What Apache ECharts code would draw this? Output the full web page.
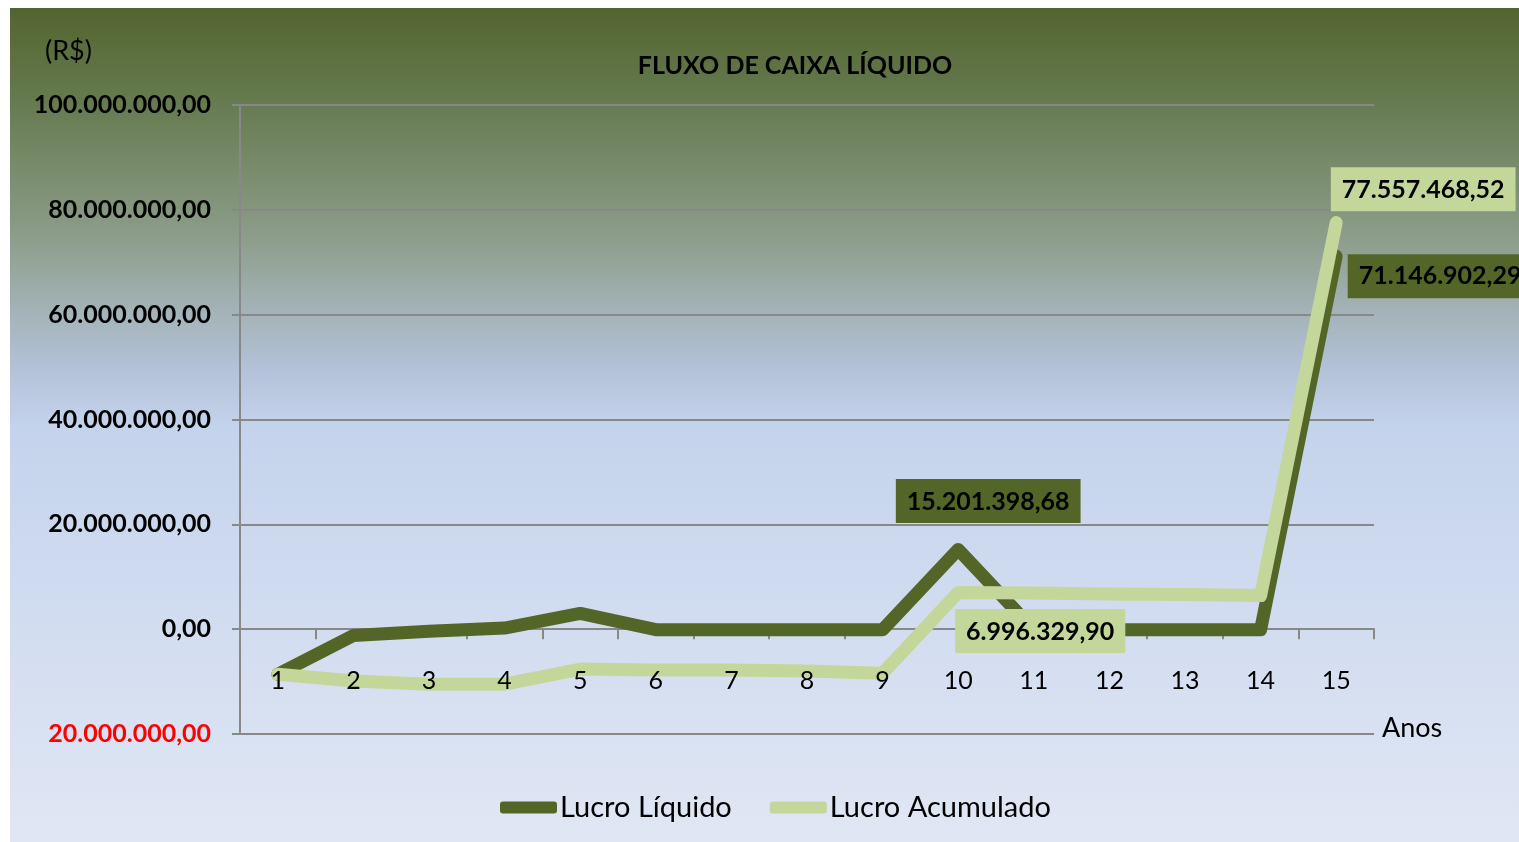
<!DOCTYPE html>
<html>
<head>
<meta charset="utf-8">
<script src="https://cdn.jsdelivr.net/npm/echarts@6/dist/echarts.min.js"></script>
<style>
  html, body { margin: 0; padding: 0; background: #fff; }
  #main { position: absolute; left: 10px; top: 8px; width: 1509px; height: 834px; }
</style>
</head>
<body>
<div id="main"></div>
<script>
// dados do grafico
var anos = ['1','2','3','4','5','6','7','8','9','10','11','12','13','14','15'];
var lucroLiquido = [-8600000, -1200000, -400000, 200000, 3000000, -100000, -100000, -100000, -100000, 15201398.68, -100000, -100000, -100000, -100000, 71146902.29];
var lucroAcumulado = [-8600000, -9900000, -10500000, -10500000, -7600000, -7800000, -7800000, -8000000, -8400000, 6996329.90, 6900000, 6700000, 6600000, 6400000, 77557468.52];
var yMin = -20000000, yMax = 100000000, yStep = 20000000;

var fonte = 'Lato, "Open Sans", sans-serif';
var escuro = '#536628';
var claro = '#c4d79b';

function fmt(v) {
  var s = Math.abs(v).toFixed(2).split('.');
  var inteiro = s[0].replace(/\B(?=(\d{3})+(?!\d))/g, '.');
  return inteiro + ',' + s[1];
}

function rotulo(valor, cor, pos, dist, off) {
  return {
    value: valor,
    label: {
      show: true,
      position: pos,
      distance: dist,
      offset: off,
      backgroundColor: cor,
      padding: [10, 11, 9, 11],
      color: '#000',
      fontFamily: fonte,
      fontWeight: 'bold',
      fontSize: 25,
      formatter: function (p) { return fmt(p.value); }
    }
  };
}

var dadosLiquido = lucroLiquido.map(function (v, i) {
  if (i === 9) return rotulo(v, escuro, 'top', 26, [30, 0]);
  if (i === 14) return rotulo(v, escuro, 'right', 11, [0, 20]);
  return v;
});
var dadosAcumulado = lucroAcumulado.map(function (v, i) {
  if (i === 9) return rotulo(v, claro, 'bottom', 16, [82, 0]);
  if (i === 14) return rotulo(v, claro, 'top', 11, [87, 0]);
  return v;
});

var myChart = echarts.init(document.getElementById('main'));
myChart.setOption({
  backgroundColor: {
    type: 'linear', x: 0, y: 0, x2: 0, y2: 1,
    colorStops: [
      { offset: 0, color: '#526530' },
      { offset: 0.11, color: '#657a4f' },
      { offset: 0.19, color: '#788b6b' },
      { offset: 0.27, color: '#8b9c88' },
      { offset: 0.35, color: '#a0b0b0' },
      { offset: 0.43, color: '#b2c1d6' },
      { offset: 0.5, color: '#c4d3ec' },
      { offset: 1, color: '#e0e7f4' }
    ]
  },
  animation: false,
  title: {
    text: 'FLUXO DE CAIXA LÍQUIDO',
    left: 780,
    textAlign: 'center',
    top: 40,
    textStyle: { fontFamily: fonte, fontWeight: 'bold', fontSize: 25, color: '#000' }
  },
  graphic: [
    { type: 'text', left: 35, top: 30, style: { text: '(R$)', font: '27px ' + fonte, fill: '#000' } },
    { type: 'text', left: 1372, top: 707, style: { text: 'Anos', font: '27px ' + fonte, fill: '#000' } }
  ],
  legend: {
    data: ['Lucro Líquido', 'Lucro Acumulado'],
    left: 485,
    top: 780,
    icon: 'roundRect',
    itemWidth: 57,
    itemHeight: 12,
    itemGap: 38,
    textStyle: { fontFamily: fonte, fontSize: 29, color: '#000', padding: [0, 0, 0, -2] }
  },
  grid: { left: 230, right: 145, top: 97, bottom: 108 },
  xAxis: [
    {
      type: 'category',
      data: anos,
      boundaryGap: true,
      axisLine: { onZero: true, lineStyle: { color: '#888', width: 2 } },
      axisTick: { show: true, length: 10, lineStyle: { color: '#888', width: 2 } },
      axisLabel: { show: false }
    },
    {
      // so os rotulos dos anos, por cima das linhas
      type: 'category',
      data: anos,
      position: 'bottom',
      boundaryGap: true,
      z: 10,
      axisLine: { show: false, onZero: false },
      axisTick: { show: false },
      axisLabel: { margin: -66, fontFamily: fonte, fontSize: 25, color: '#000' }
    }
  ],
  yAxis: {
    type: 'value',
    min: yMin,
    max: yMax,
    interval: yStep,
    axisLine: { show: true, lineStyle: { color: '#888', width: 2 } },
    axisTick: { show: true, length: 8, lineStyle: { color: '#888', width: 2 } },
    splitLine: { show: true, lineStyle: { color: '#888', width: 2 } },
    axisLabel: {
      margin: 29,
      fontFamily: fonte,
      fontWeight: 'bold',
      fontSize: 25,
      color: '#000',
      formatter: function (v) {
        if (v < 0) return '{neg|' + fmt(v) + '}';
        return fmt(v);
      },
      rich: {
        neg: { color: '#ff0000', fontFamily: fonte, fontWeight: 'bold', fontSize: 25 }
      }
    }
  },
  series: [
    {
      name: 'Lucro Líquido',
      type: 'line',
      data: dadosLiquido,
      symbol: 'circle',
      symbolSize: 1,
      itemStyle: { color: escuro },
      lineStyle: { color: escuro, width: 13, cap: 'round', join: 'round' }
    },
    {
      name: 'Lucro Acumulado',
      type: 'line',
      data: dadosAcumulado,
      symbol: 'circle',
      symbolSize: 1,
      itemStyle: { color: claro },
      lineStyle: { color: claro, width: 13, cap: 'round', join: 'round' }
    }
  ]
});
</script>
</body>
</html>
